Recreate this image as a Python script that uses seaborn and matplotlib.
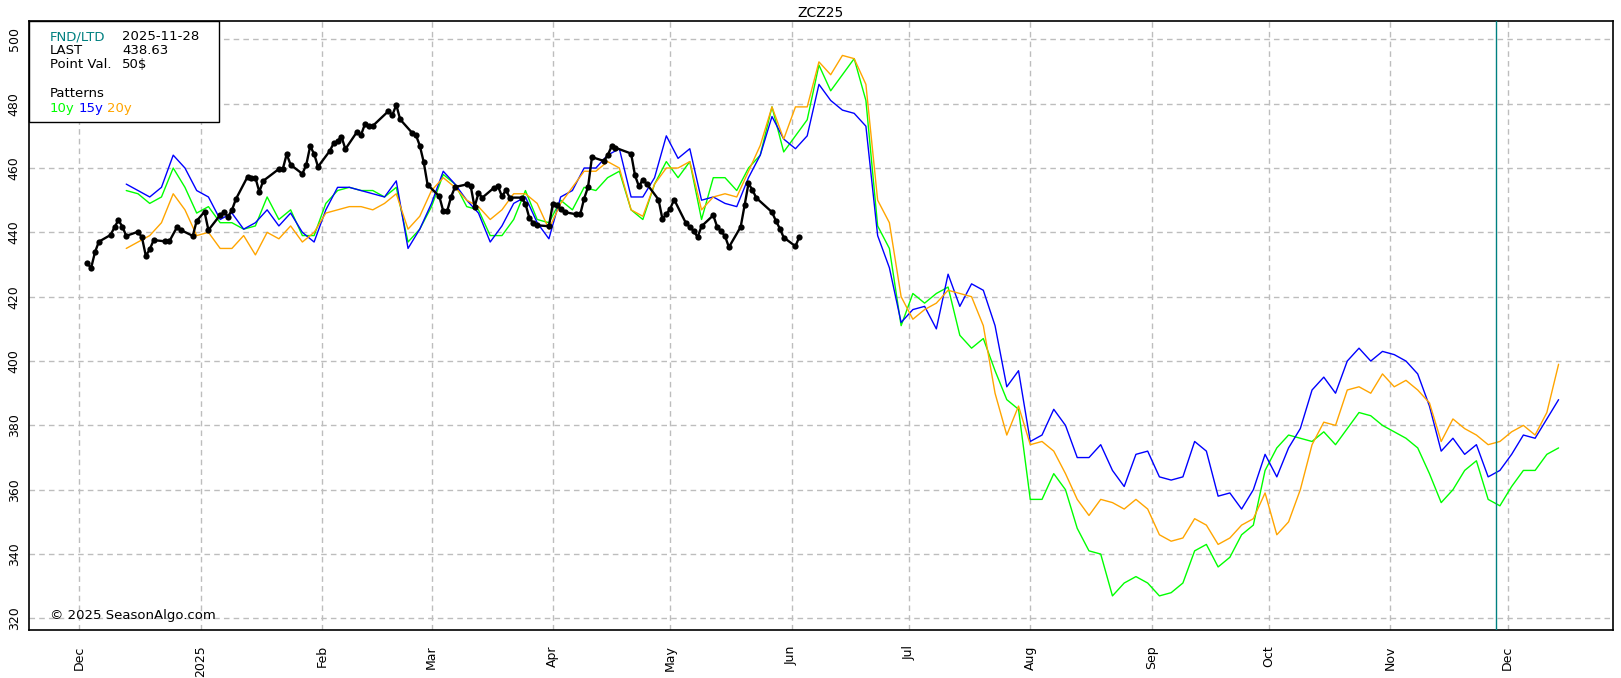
import pandas as pd
import matplotlib
matplotlib.use("Agg")
import matplotlib.pyplot as plt
import matplotlib.dates as mdates
from matplotlib.patches import Rectangle
import seaborn as sns

# -- Data --

# ZCZ25 daily closes (business days, exchange holidays skipped)
last_start = "2024-12-03"
holidays = ["2024-12-25", "2025-01-01", "2025-01-20", "2025-02-17",
            "2025-04-18", "2025-05-26"]
last_prices = [
    430.6, 428.8, 433.8, 437.1, 439.2, 441.6, 443.8, 441.8, 438.9, 440.2,
    438.5, 432.7, 434.7, 437.6, 437.2, 437.2, 441.7, 440.7, 438.9, 443.6,
    446.4, 440.7, 445.4, 446.2, 444.9, 446.9, 450.3, 457.3, 457.0, 457.0,
    452.6, 456.0, 459.7, 459.7, 464.3, 461.0, 458.2, 461.0, 466.8, 464.4,
    460.4, 465.3, 467.7, 468.4, 469.7, 465.9, 471.3, 470.3, 473.7, 473.1,
    473.1, 477.7, 476.5, 479.6, 475.1, 471.0, 470.3, 467.0, 461.9, 454.8,
    451.2, 446.6, 446.6, 451.0, 454.1, 454.9, 454.5, 447.9, 452.2, 450.8,
    453.9, 454.3, 451.2, 453.1, 450.8, 450.8, 448.9, 444.5, 442.9, 442.2,
    441.9, 448.9, 448.4, 447.4, 446.3, 445.6, 445.6, 450.5, 454.1, 463.4,
    462.2, 463.9, 466.7, 466.3, 464.5, 457.7, 454.3, 456.4, 455.1, 450.2,
    444.2, 445.6, 447.4, 450.2, 442.9, 441.7, 440.4, 438.5, 441.9, 445.3,
    441.7, 440.4, 438.8, 435.4, 441.7, 448.4, 455.2, 453.2, 450.7, 446.3,
    443.6, 441.2, 438.4, 435.7, 438.63,
]

# seasonal patterns, one value every 3 days
pattern_start = "2024-12-13"
pattern_10y = [
    453, 452, 449, 451, 460, 454, 446, 448, 443, 443, 441, 442, 451, 444, 447,
    439, 439, 449, 453, 454, 453, 453, 451, 454, 437, 441, 448,
    458, 455, 448, 447, 439, 439, 444, 453, 444, 443, 450, 447, 454, 453, 457,
    459, 447, 444, 455, 462, 457, 462, 444, 457, 457, 453, 460, 464, 479,
    465, 470, 475, 492, 484, 489, 494, 481, 442, 435, 411, 421, 418, 421, 423,
    408, 404, 407,
    397, 388, 385, 357, 357, 365, 360, 348, 341, 340, 327, 331, 333, 331, 327,
    328,
    331, 341, 343, 336, 339, 346, 349, 366, 373, 377, 376,
    375, 378, 374, 379, 384, 383, 380, 378, 376, 373, 365, 356, 360, 366, 369,
    357, 355, 361, 366, 366, 371, 373,
]
pattern_15y = [
    455, 453, 451, 454, 464, 460, 453, 451, 444, 446, 441, 443, 447, 442, 446,
    440, 437, 447, 454, 454, 453, 452, 451, 456, 435, 441, 449,
    459, 455, 450, 446, 437, 442, 449, 451, 443, 438, 451, 453, 460, 460, 464,
    466, 451, 451, 457, 470, 463, 466, 450, 451, 449, 448, 457, 464, 476,
    469, 466, 470, 486, 481, 478, 477, 473, 439, 429, 412, 416, 417, 410, 427,
    417, 424, 422,
    411, 392, 397, 375, 377, 385, 380, 370, 370, 374, 366, 361, 371, 372, 364,
    363,
    364, 375, 372, 358, 359, 354, 360, 371, 364, 373, 379,
    391, 395, 390, 400, 404, 400, 403, 402, 400, 396, 386, 372, 376, 371, 374,
    364, 366, 371, 377, 376, 382, 388,
]
pattern_20y = [
    435, 437, 439, 443, 452, 447, 439, 440, 435, 435, 439, 433, 440, 438, 442,
    437, 440, 446, 447, 448, 448, 447, 449, 452, 441, 445, 453,
    457, 454, 450, 448, 444, 447, 452, 452, 449, 441, 449, 454, 459, 459, 462,
    460, 447, 445, 455, 460, 460, 462, 447, 451, 452, 451, 459, 467, 479,
    469, 479, 479, 493, 489, 495, 494, 486, 450, 443, 420, 413, 416, 418, 422,
    421, 420, 411,
    390, 377, 386, 374, 375, 372, 365, 357, 352, 357, 356, 354, 357, 354, 346,
    344,
    345, 351, 349, 343, 345, 349, 351, 359, 346, 350, 360,
    374, 381, 380, 391, 392, 390, 396, 392, 394, 391, 387, 375, 382, 379, 377,
    374, 375, 378, 380, 377, 384, 399,
]

contract = "ZCZ25"
fnd_date = "2025-11-28"
last_value = "438.63"
point_val = "50$"

last_dates = pd.bdate_range(start=last_start, periods=len(last_prices),
                            freq="C", holidays=holidays)

# -- Chart --

sns.set_theme(style="white")
plt.rcParams["font.family"] = ["DejaVu Sans"]
plt.rcParams["text.color"] = "black"
plt.rcParams["xtick.color"] = "black"
plt.rcParams["ytick.color"] = "black"

fig = plt.figure(figsize=(16.21, 6.78), dpi=100)
ax = fig.add_axes([0.01789, 0.0708, 0.97717, 0.89823])

for values, color in [(pattern_10y, "#00ff00"), (pattern_15y, "#0000ff"),
                      (pattern_20y, "#ffa500")]:
    dates = pd.date_range(start=pattern_start, periods=len(values), freq="3D")
    sns.lineplot(x=dates, y=values, color=color, linewidth=1.0, ax=ax)

sns.lineplot(x=last_dates, y=last_prices, color="black", linewidth=1.7,
             marker="o", markersize=4.5, markeredgecolor="black",
             markeredgewidth=0, ax=ax, zorder=4)

ax.axvline(pd.Timestamp(fnd_date), color="#008080", linewidth=1, zorder=3)

ax.set_xlim(mdates.date2num(pd.Timestamp("2024-11-18 03:36")),
            mdates.date2num(pd.Timestamp("2025-12-27 21:36")))
ax.set_ylim(316.4, 505.7)
ax.set_yticks(range(320, 501, 20))
ax.xaxis.set_major_locator(mdates.MonthLocator())
ax.xaxis.set_major_formatter(plt.FuncFormatter(
    lambda x, pos: mdates.num2date(x).strftime("%Y")
    if mdates.num2date(x).month == 1 else mdates.num2date(x).strftime("%b")))

ax.grid(True, color="#bdbdbd", linestyle=(0, (4, 3)), linewidth=1)
ax.tick_params(axis="y", length=0, pad=6, labelsize=9, labelrotation=90,
               labelcolor="black")
ax.tick_params(axis="x", length=0, pad=11, labelsize=9, labelrotation=90,
               labelcolor="black")
for label in ax.get_yticklabels():
    label.set_va("center")
for spine in ax.spines.values():
    spine.set_color("black")
    spine.set_linewidth(1.2)
ax.set_xlabel("")
ax.set_ylabel("")
ax.set_title(contract, fontsize=10, pad=3, color="black")

# info box
ax.add_patch(Rectangle((0, 0.834), 0.12, 0.166, transform=ax.transAxes,
                       facecolor="white", edgecolor="black", linewidth=1,
                       zorder=5, clip_on=False))
x1, x2 = 0.01326, 0.0587
rows = [("FND/LTD", fnd_date, "#008080", 0.9742),
        ("LAST", last_value, "black", 0.9512),
        ("Point Val.", point_val, "black", 0.9282)]
for name, val, color, y in rows:
    ax.text(x1, y, name, color=color, fontsize=9.5, va="center",
            transform=ax.transAxes, zorder=6)
    ax.text(x2, y, val, color="black", fontsize=9.5, va="center",
            transform=ax.transAxes, zorder=6)
ax.text(x1, 0.8813, "Patterns", color="black", fontsize=9.5, va="center",
        transform=ax.transAxes, zorder=6)
for lbl, color, x in [("10y", "#00ff00", 0.01326), ("15y", "#0000ff", 0.0316),
                      ("20y", "#ffa500", 0.0490)]:
    ax.text(x, 0.8567, lbl, color=color, fontsize=9.5, va="center",
            transform=ax.transAxes, zorder=6)

ax.text(0.01326, 0.023, "\u00a9 2025 SeasonAlgo.com", color="black",
        fontsize=9.5, va="center", transform=ax.transAxes, zorder=6)

fig.savefig("out.png", dpi=100)
